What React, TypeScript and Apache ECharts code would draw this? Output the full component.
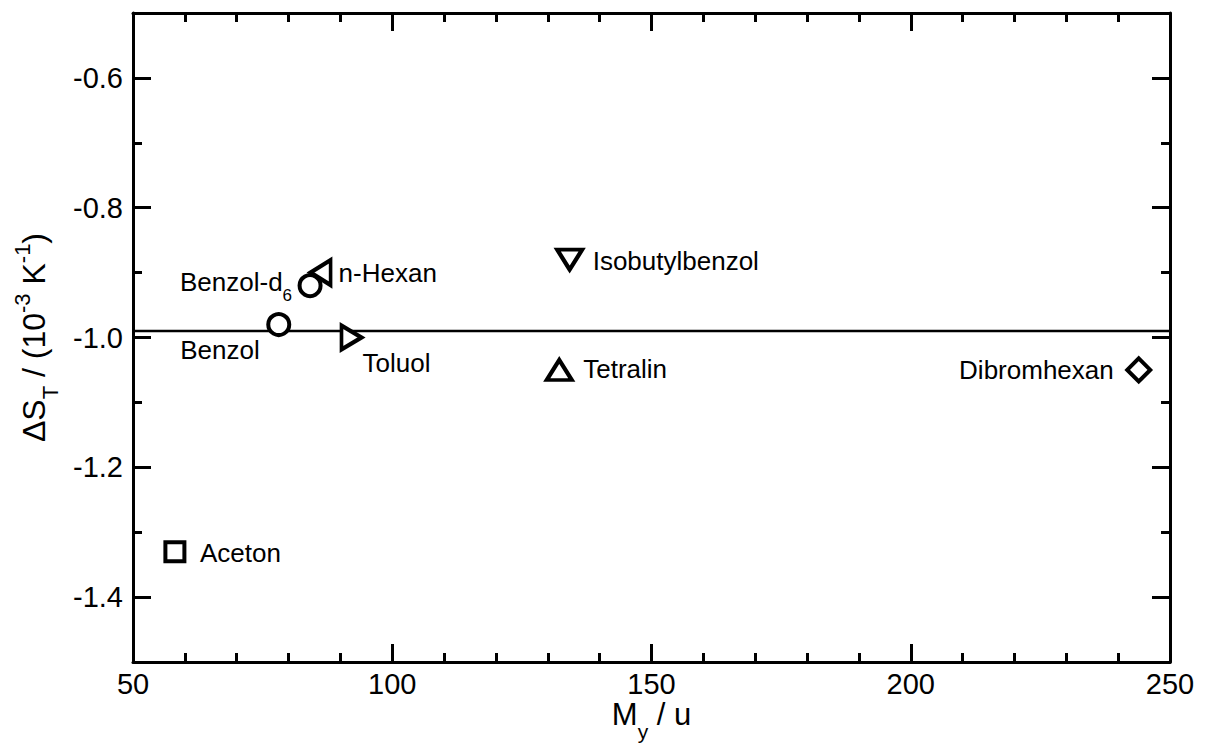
import React, { useEffect, useRef } from 'react';
import * as echarts from 'echarts';

// Substances, molar mass M_y (u) and Soret coefficient difference ΔS_T (10^-3 K^-1)
const substances = ['Aceton', 'Benzol', 'Benzol-d6', 'n-Hexan', 'Toluol', 'Tetralin', 'Isobutylbenzol', 'Dibromhexan'];
const molarMass = [58.08, 78.11, 84.15, 86.18, 92.14, 132.21, 134.22, 243.97];
const deltaST = [-1.33, -0.98, -0.92, -0.9, -1.0, -1.05, -0.88, -1.05];

// Mean value line
const meanLineX = [50, 250];
const meanLineY = [-0.99, -0.99];

// Axis ticks
const yMajorTicks = [-1.4, -1.2, -1.0, -0.8, -0.6];
const yMinorTicks = [-1.5, -1.3, -1.1, -0.9, -0.7, -0.5];

const FONT = '"Liberation Sans", Arial, Helvetica, sans-serif';

// Marker shape and label placement for each substance
type MarkStyle = {
  symbol: string;
  size: number | number[];
  rotate: number;
  align: 'left' | 'right';
  offset: number[];
  text: string;
};
const markStyles: Record<string, MarkStyle> = {
  'Aceton': { symbol: 'rect', size: 19, rotate: 0, align: 'left', offset: [25, 1], text: 'Aceton' },
  'Benzol': { symbol: 'circle', size: 21, rotate: 0, align: 'right', offset: [-19, 25], text: 'Benzol' },
  'Benzol-d6': { symbol: 'circle', size: 21, rotate: 0, align: 'right', offset: [-18, -4], text: '{m|Benzol-d}{s|6}' },
  'n-Hexan': { symbol: 'triangle', size: [25, 20], rotate: 90, align: 'left', offset: [18, 0], text: 'n-Hexan' },
  'Toluol': { symbol: 'triangle', size: [24, 20], rotate: -90, align: 'left', offset: [11, 25], text: 'Toluol' },
  'Tetralin': { symbol: 'triangle', size: [25, 20], rotate: 0, align: 'left', offset: [24, -1], text: 'Tetralin' },
  'Isobutylbenzol': { symbol: 'triangle', size: [25, 20], rotate: 180, align: 'left', offset: [23, 1], text: 'Isobutylbenzol' },
  'Dibromhexan': { symbol: 'diamond', size: 23, rotate: 0, align: 'right', offset: [-25, 0], text: 'Dibromhexan' },
};

const labelRich = {
  m: { fontSize: 26, fontFamily: FONT, color: '#000', lineHeight: 30 },
  s: { fontSize: 17, fontFamily: FONT, color: '#000', lineHeight: 17, padding: [28, 0, 0, 0] },
};

export default function App() {
  const ref = useRef<HTMLDivElement>(null);

  useEffect(() => {
    if (!ref.current) return;
    const chart = echarts.init(ref.current, null, { renderer: 'svg' });

    const axisLine = { show: true, lineStyle: { color: '#000', width: 3 } };
    const majorTick = { show: true, inside: true, length: 18, lineStyle: { color: '#000', width: 3 } };
    const minorTickStyle = { show: true, splitNumber: 5, length: 9, lineStyle: { color: '#000', width: 3 } };
    const tickLabel = { fontSize: 29, fontFamily: FONT, color: '#000' };

    const baseX = {
      type: 'value' as const,
      min: 50,
      max: 250,
      interval: 50,
      splitLine: { show: false },
    };
    const baseY = {
      type: 'value' as const,
      min: -1.5,
      max: -0.5,
      splitLine: { show: false },
    };

    const points = substances.map((name, i) => {
      const st = markStyles[name];
      return {
        name,
        value: [molarMass[i], deltaST[i]],
        symbol: st.symbol,
        symbolSize: st.size,
        symbolRotate: st.rotate,
        label: {
          show: true,
          position: 'inside',
          align: st.align,
          verticalAlign: 'middle',
          offset: st.offset,
          color: '#000',
          formatter: st.text.startsWith('{') ? st.text : `{m|${st.text}}`,
          rich: labelRich,
        },
      };
    });

    chart.setOption({
      animation: false,
      backgroundColor: '#fff',
      grid: { left: 133, right: 37, top: 13, bottom: 85, outerBoundsMode: 'none' },
      xAxis: [
        {
          ...baseX,
          position: 'bottom',
          axisLine,
          axisTick: majorTick,
          minorTick: minorTickStyle,
          axisLabel: { ...tickLabel, margin: 7 },
          name: '{m|M}{s|y}{m| / u}',
          nameLocation: 'middle',
          nameGap: 34,
          nameMoveOverlap: false,
          nameTextStyle: {
            rich: {
              m: { fontSize: 31, fontFamily: FONT, color: '#000', lineHeight: 36 },
              s: { fontSize: 21, fontFamily: FONT, color: '#000', lineHeight: 21, padding: [34, 0, 0, 0] },
            },
          },
        },
        {
          ...baseX,
          position: 'top',
          axisLine,
          axisTick: majorTick,
          minorTick: minorTickStyle,
          axisLabel: { show: false },
        },
      ],
      yAxis: [
        {
          ...baseY,
          position: 'left',
          axisLine,
          axisTick: { ...majorTick, customValues: yMajorTicks },
          axisLabel: {
            ...tickLabel,
            margin: 10,
            customValues: yMajorTicks,
            formatter: (v: number) => v.toFixed(1),
          },
          name: '{m|ΔS}{s|T}{m| / (10}{p|-3}{m| K}{p|-1}{m|)}',
          nameLocation: 'middle',
          nameGap: 80,
          nameTextStyle: {
            rich: {
              m: { fontSize: 32, fontFamily: FONT, color: '#000', lineHeight: 38 },
              s: { fontSize: 22, fontFamily: FONT, color: '#000', lineHeight: 22, padding: [32, 0, 0, 0] },
              p: { fontSize: 22, fontFamily: FONT, color: '#000', lineHeight: 22, padding: [0, 0, 24, 0] },
            },
          },
        },
        {
          ...baseY,
          position: 'left',
          axisLine: { show: false },
          axisTick: { show: true, inside: true, length: 9, lineStyle: { color: '#000', width: 3 }, customValues: yMinorTicks },
          axisLabel: { show: false },
        },
        {
          ...baseY,
          position: 'right',
          axisLine,
          axisTick: { ...majorTick, customValues: yMajorTicks },
          axisLabel: { show: false },
        },
        {
          ...baseY,
          position: 'right',
          axisLine: { show: false },
          axisTick: { show: true, inside: true, length: 9, lineStyle: { color: '#000', width: 3 }, customValues: yMinorTicks },
          axisLabel: { show: false },
        },
      ],
      series: [
        {
          type: 'line',
          xAxisIndex: 0,
          yAxisIndex: 0,
          data: meanLineX.map((x, i) => [x, meanLineY[i]]),
          symbol: 'none',
          lineStyle: { color: '#000', width: 2.5 },
          silent: true,
          z: 2,
        },
        {
          type: 'scatter',
          xAxisIndex: 0,
          yAxisIndex: 0,
          data: points,
          itemStyle: { color: '#fff', borderColor: '#000', borderWidth: 4, opacity: 1 },
          z: 3,
        },
      ],
    });

    return () => chart.dispose();
  }, []);

  return (
    <div
      ref={ref}
      style={{ position: 'fixed', left: 0, top: 0, width: 1207, height: 747, background: '#fff' }}
    />
  );
}
